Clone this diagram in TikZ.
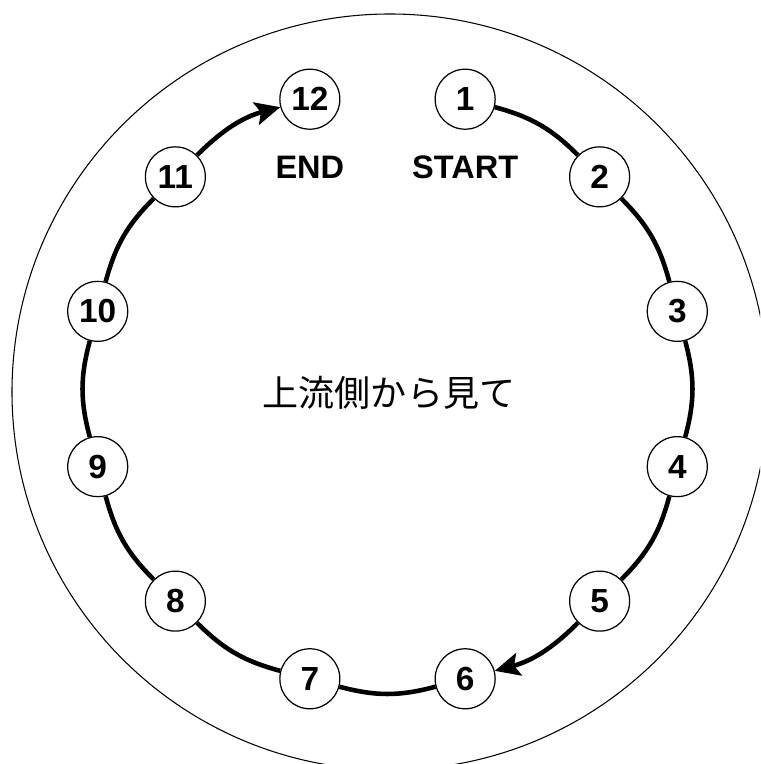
\documentclass[tikz,border=0pt]{standalone}
\usepackage{fontspec}
\setmainfont{Liberation Sans}
\newfontfamily\jpfont{Noto Sans CJK JP}
\usetikzlibrary{positioning,arrows.meta}

\begin{document}
\begin{tikzpicture}[
    num/.style={circle, draw, line width=0.7pt, fill=white, minimum size=1.2cm, inner sep=0pt,
        font=\fontsize{19}{20}\selectfont\bfseries},
    tag/.style={inner sep=0pt, font=\fontsize{18.5}{20}\selectfont\bfseries},
    ring/.style={line width=2.6pt},
    tip/.style={-{Stealth[length=0.5cm,width=0.46cm,inset=0.1cm]}}
]
    \useasboundingbox (-7.75,-7.5) rectangle (7.45,7.78);
    \clip (-7.75,-7.5) rectangle (7.45,7.78);

    % outer casing
    \draw[line width=0.6pt] (0.05,-0.06) circle (7.56);

    % measuring points
    \foreach \i [evaluate=\i as \a using 105-30*\i] in {1,...,12}
        \node[num] (n\i) at (\a:6) {\i};

    \node[tag, below=0.52cm of n12] (end) {END};
    \node[tag, below=0.52cm of n1] (start) {START};
    \node[font=\jpfont\fontsize{20.5}{24}\selectfont] (view) at (0.03,-0.08) {上流側から見て};

    % path around the ring
    \foreach \i [evaluate=\i as \j using int(\i+1)] in {1,2,3,4,6,7,8,9,10}
        \draw[ring] (n\i) to[bend left=15] (n\j);
    \draw[ring, tip] (n5) to[bend left=15] (n6);
    \draw[ring, tip] (n11) to[bend left=15] (n12);

\end{tikzpicture}
\end{document}
